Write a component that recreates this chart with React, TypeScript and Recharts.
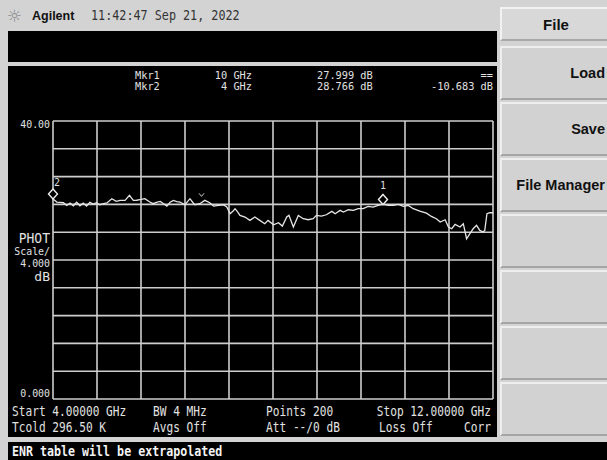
import React from 'react';
import { LineChart, Line, XAxis, YAxis, ReferenceLine, ReferenceDot } from 'recharts';

// trace: frequency (GHz) and gain (dB)
const freqGHz = [
  4.0, 4.07, 4.13, 4.19, 4.25, 4.31, 4.37, 4.43, 4.49, 4.55, 4.61, 4.67, 4.73, 4.79, 4.85, 4.92, 4.98,
  5.07, 5.15, 5.22, 5.31, 5.39, 5.46, 5.52, 5.58, 5.67, 5.76, 5.82, 5.88, 5.95, 6.01, 6.07, 6.13, 6.19,
  6.25, 6.31, 6.4, 6.49, 6.55, 6.58, 6.67, 6.76, 6.85, 6.92, 7.01, 7.1, 7.16, 7.22, 7.27, 7.31, 7.36,
  7.4, 7.49, 7.58, 7.67, 7.76, 7.85, 7.91, 8.01, 8.1, 8.17, 8.25, 8.29, 8.37, 8.46, 8.55, 8.64, 8.73,
  8.79, 8.88, 8.97, 9.07, 9.13, 9.22, 9.28, 9.37, 9.46, 9.55, 9.64, 9.73, 9.82, 9.91, 10.0, 10.1,
  10.19, 10.28, 10.37, 10.46, 10.55, 10.67, 10.79, 10.88, 10.97, 11.04, 11.13, 11.19, 11.25, 11.31,
  11.4, 11.46, 11.52, 11.58, 11.64, 11.7, 11.76, 11.82, 11.85, 11.89, 11.94, 12.0,
];
const gainDb = [
  28.77, 28.34, 28.3, 28.24, 27.85, 28.2, 27.8, 28.3, 27.8, 28.2, 27.75, 28.3, 28.05, 28.25, 27.95, 28.1, 28.2,
  28.82, 28.45, 28.58, 28.58, 29.3, 28.58, 28.6, 28.7, 28.82, 28.34, 28.1, 28.3, 28.43, 28.1, 27.76, 28.3, 28.58,
  28.4, 28.34, 27.95, 28.82, 28.2, 27.95, 28.1, 28.58, 28.24, 27.76, 27.86, 27.95, 27.62, 26.66, 27.0, 27.38, 26.9,
  26.42, 26.18, 25.7, 26.18, 25.7, 25.22, 25.7, 25.07, 25.36, 24.88, 26.18, 26.42, 24.74, 26.42, 25.94, 25.79, 25.94,
  26.42, 26.32, 26.51, 27.0, 26.66, 27.14, 26.9, 27.23, 27.14, 27.38, 27.38, 27.71, 27.62, 27.86, 28.0, 27.86,
  27.86, 28.0, 27.71, 27.86, 27.38, 27.04, 26.75, 26.27, 25.94, 25.46, 25.79, 24.74, 24.5, 25.12,
  24.74, 25.22, 23.06, 23.78, 24.5, 24.98, 24.26, 24.02, 24.26, 26.66, 26.8, 26.8,
];

const xTicks = [4, 4.8, 5.6, 6.4, 7.2, 8, 8.8, 9.6, 10.4, 11.2, 12];
const yTicks = [0, 4, 8, 12, 16, 20, 24, 28, 32, 36, 40];

const markerFreq = [10, 4];
const markerDb = [27.999, 28.766];
const markerNames = ['1', '2'];

const softkeys = ['Load', 'Save', 'File Manager', '', '', '', ''];

const traceData = freqGHz.map((f, i) => ({ f, db: gainDb[i] }));

const mono = '"DejaVu Sans Mono", monospace';
const sans = '"Liberation Sans", Arial, sans-serif';

type TxtProps = {
  x: number;
  y: number;
  text: string;
  size?: number;
  sx?: number;
  sy?: number;
  align?: 'left' | 'right' | 'center';
  color?: string;
  bold?: boolean;
  family?: string;
};

const Txt = ({ x, y, text, size = 12, sx = 1, sy = 1, align = 'left', color = '#e2e2e2', bold = false, family = mono }: TxtProps) => {
  const shift = align === 'left' ? '0' : align === 'right' ? '-100%' : '-50%';
  const origin = align === 'left' ? 'left center' : align === 'right' ? 'right center' : 'center center';
  return (
    <div
      style={{
        position: 'absolute',
        left: x,
        top: y,
        transform: `translate(${shift}, -50%) scale(${sx}, ${sy})`,
        transformOrigin: origin,
        whiteSpace: 'pre',
        fontFamily: family,
        fontSize: size,
        lineHeight: 1,
        color,
        fontWeight: bold ? 'bold' : 'normal',
      }}
    >
      {text}
    </div>
  );
};

const box = (left: number, top: number, width: number, height: number, bg: string): React.CSSProperties => ({
  position: 'absolute',
  left,
  top,
  width,
  height,
  background: bg,
});

const Diamond = (props: any) => {
  const { cx, cy, name, dx, dy } = props;
  const c = cy - 5;
  return (
    <g>
      <path d={`M${cx},${c - 5} L${cx + 4.5},${c} L${cx},${c + 5} L${cx - 4.5},${c} Z`} fill="#000" stroke="#eee" strokeWidth={1.4} />
      <text x={cx + dx} y={cy + dy} fill="#ddd" fontSize={10} fontFamily={mono} textAnchor="middle">
        {name}
      </text>
    </g>
  );
};

const Tick = (props: any) => {
  const { cx, cy } = props;
  return <path d={`M${cx - 2.5},${cy - 2} L${cx},${cy + 1} L${cx + 2.5},${cy - 2}`} fill="none" stroke="#ccc" strokeWidth={1} />;
};

const GRID = '#cdcdcd';

const App = () => {
  const hdr = { size: 10.5, sx: 0.98 };
  const st = { size: 12, sx: 0.93, sy: 1.1 };
  const ax = { size: 10.5, sx: 0.94 };
  return (
    <div style={{ position: 'absolute', left: 0, top: 0, width: 607, height: 460, overflow: 'hidden', background: '#d3d3d3' }}>
      {/* title bar */}
      <Txt x={7} y={16} text="☼" size={17} color="#8a8a8a" family='"DejaVu Sans", sans-serif' />
      <Txt x={32} y={16} text="Agilent" size={12.5} bold color="#111" family={sans} />
      <Txt x={91} y={16} text="11:42:47 Sep 21, 2022" size={12} sx={0.98} sy={1.1} color="#333" />

      <div style={box(8, 31, 489, 31, '#000')} />
      <div style={box(8, 66, 489, 371, '#000')} />
      <div style={box(8, 442, 599, 18, '#000')} />

      {/* softkeys */}
      <div style={{ ...box(500, 7, 107, 34, '#d8d8d8'), boxSizing: 'border-box', borderTop: '2px solid #f2f2f2', borderLeft: '2px solid #f2f2f2', borderBottom: '2px solid #a8a8a8' }} />
      <Txt x={556} y={24} text="File" size={15} bold color="#111" family={sans} align="center" />
      {softkeys.map((k, i) => (
        <React.Fragment key={i}>
          <div
            style={{
              ...box(500, 46 + i * 56, 107, 54, '#d2d2d2'),
              boxSizing: 'border-box',
              borderTop: '2px solid #eeeeee',
              borderLeft: '2px solid #eeeeee',
              borderBottom: '2px solid #a4a4a4',
            }}
          />
          {k && <Txt x={605} y={73 + i * 56} text={k} size={14.5} bold color="#111" family={sans} align="right" />}
        </React.Fragment>
      ))}

      {/* marker readout */}
      <Txt x={135} y={75} text="Mkr1" {...hdr} />
      <Txt x={135} y={86} text="Mkr2" {...hdr} />
      <Txt x={252} y={75} text="10 GHz" align="right" {...hdr} />
      <Txt x={252} y={86} text="4 GHz" align="right" {...hdr} />
      <Txt x={317} y={75} text="27.999 dB" {...hdr} />
      <Txt x={317} y={86} text="28.766 dB" {...hdr} />
      <Txt x={493} y={75} text="==" align="right" {...hdr} />
      <Txt x={493} y={86} text="-10.683 dB" align="right" {...hdr} />

      {/* y labels */}
      <Txt x={50} y={124} text="40.00" align="right" {...ax} />
      <Txt x={50} y={238} text="PHOT" align="right" size={13} sy={1.05} />
      <Txt x={50} y={251} text="Scale/" align="right" {...ax} />
      <Txt x={50} y={263} text="4.000" align="right" {...ax} />
      <Txt x={50} y={276} text="dB" align="right" size={13} />
      <Txt x={50} y={393} text="0.000" align="right" {...ax} />

      {/* status rows */}
      <Txt x={12} y={412} text="Start 4.00000 GHz" {...st} />
      <Txt x={153} y={412} text="BW 4 MHz" {...st} />
      <Txt x={266} y={412} text="Points 200" {...st} />
      <Txt x={491} y={412} text="Stop 12.00000 GHz" align="right" {...st} />
      <Txt x={12} y={428} text="Tcold 296.50 K" {...st} />
      <Txt x={153} y={428} text="Avgs Off" {...st} />
      <Txt x={266} y={428} text="Att --/0 dB" {...st} />
      <Txt x={379} y={428} text="Loss Off" {...st} />
      <Txt x={491} y={428} text="Corr" align="right" {...st} />

      <Txt x={12} y={452} text="ENR table will be extrapolated" size={12} sx={0.97} sy={1.1} bold color="#f4f4f4" />

      <div style={{ position: 'absolute', left: 0, top: 0 }}>
        <LineChart width={607} height={460} data={traceData} margin={{ top: 121, right: 114, bottom: 61, left: 53 }}>
          <XAxis
            type="number"
            dataKey="f"
            domain={[4, 12]}
            ticks={xTicks}
            tick={false}
            tickLine={false}
            axisLine={false}
            height={0}
          />
          <YAxis type="number" domain={[0, 40]} ticks={yTicks} tick={false} tickLine={false} axisLine={false} width={0} />
          {xTicks.map((t) => (
            <ReferenceLine key={'x' + t} x={t} stroke={GRID} strokeWidth={1.6} />
          ))}
          {yTicks.map((t) => (
            <ReferenceLine key={'y' + t} y={t} stroke={GRID} strokeWidth={1.6} />
          ))}
          <Line type="linear" dataKey="db" stroke="#e6e6e6" strokeWidth={1.3} dot={false} isAnimationActive={false} />
          {markerFreq.map((f, i) => (
            <ReferenceDot
              key={i}
              x={f}
              y={markerDb[i]}
              shape={(p: any) => <Diamond {...p} name={markerNames[i]} dx={i === 1 ? 4 : 0} dy={i === 1 ? -13 : -15} />}
            />
          ))}
          <ReferenceDot x={6.7} y={29.3} shape={(p: any) => <Tick {...p} />} />
        </LineChart>
      </div>
    </div>
  );
};

export default App;
